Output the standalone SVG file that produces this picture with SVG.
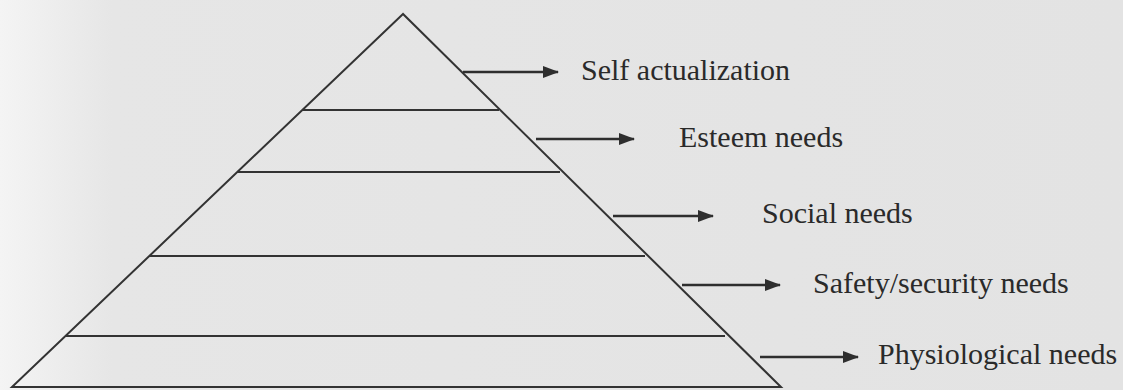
<svg xmlns="http://www.w3.org/2000/svg" width="1123" height="390" viewBox="0 0 1123 390">
  <defs>
    <linearGradient id="bg" x1="0" y1="0" x2="1" y2="0">
      <stop offset="0" stop-color="#f4f4f4"/>
      <stop offset="0.1" stop-color="#e6e6e6"/>
      <stop offset="1" stop-color="#e3e3e3"/>
    </linearGradient>
    <marker id="arrow" viewBox="0 0 16 12" refX="15" refY="6" markerWidth="16" markerHeight="12" markerUnits="userSpaceOnUse" orient="auto">
      <path d="M0,0 L16,6 L0,12 Z" fill="#2e2e2e"/>
    </marker>
    <style>
      .edge { fill: none; stroke: #333; stroke-width: 2; stroke-linejoin: miter; }
      .tier { stroke: #333; stroke-width: 2.2; }
      .conn { stroke: #2e2e2e; stroke-width: 2.4; marker-end: url(#arrow); }
      .label { font-family: "Liberation Serif", "Times New Roman", serif; font-size: 30px; fill: #2a2a2a; }
    </style>
  </defs>
  <rect width="1123" height="390" fill="url(#bg)"/>

  <g id="pyramid">
    <polygon class="edge" points="403,14 12,387 781,387"/>
    <line class="tier" x1="302" y1="110" x2="499" y2="110"/>
    <line class="tier" x1="237" y1="172" x2="560" y2="172"/>
    <line class="tier" x1="149" y1="256" x2="645" y2="256"/>
    <line class="tier" x1="65" y1="336" x2="725" y2="336"/>
  </g>

  <g id="connectors">
    <line class="conn" x1="463" y1="72" x2="558" y2="72"/>
    <line class="conn" x1="536" y1="139" x2="634" y2="139"/>
    <line class="conn" x1="613" y1="216" x2="713" y2="216"/>
    <line class="conn" x1="682" y1="285" x2="780" y2="285"/>
    <line class="conn" x1="760" y1="357" x2="858" y2="357"/>
  </g>

  <g id="self-actualization"><text class="label" x="581" y="80">Self actualization</text></g>
  <g id="esteem-needs"><text class="label" x="679" y="147">Esteem needs</text></g>
  <g id="social-needs"><text class="label" x="762" y="223">Social needs</text></g>
  <g id="safety-security-needs"><text class="label" x="813" y="293">Safety/security needs</text></g>
  <g id="physiological-needs"><text class="label" x="878" y="364">Physiological needs</text></g>
</svg>
